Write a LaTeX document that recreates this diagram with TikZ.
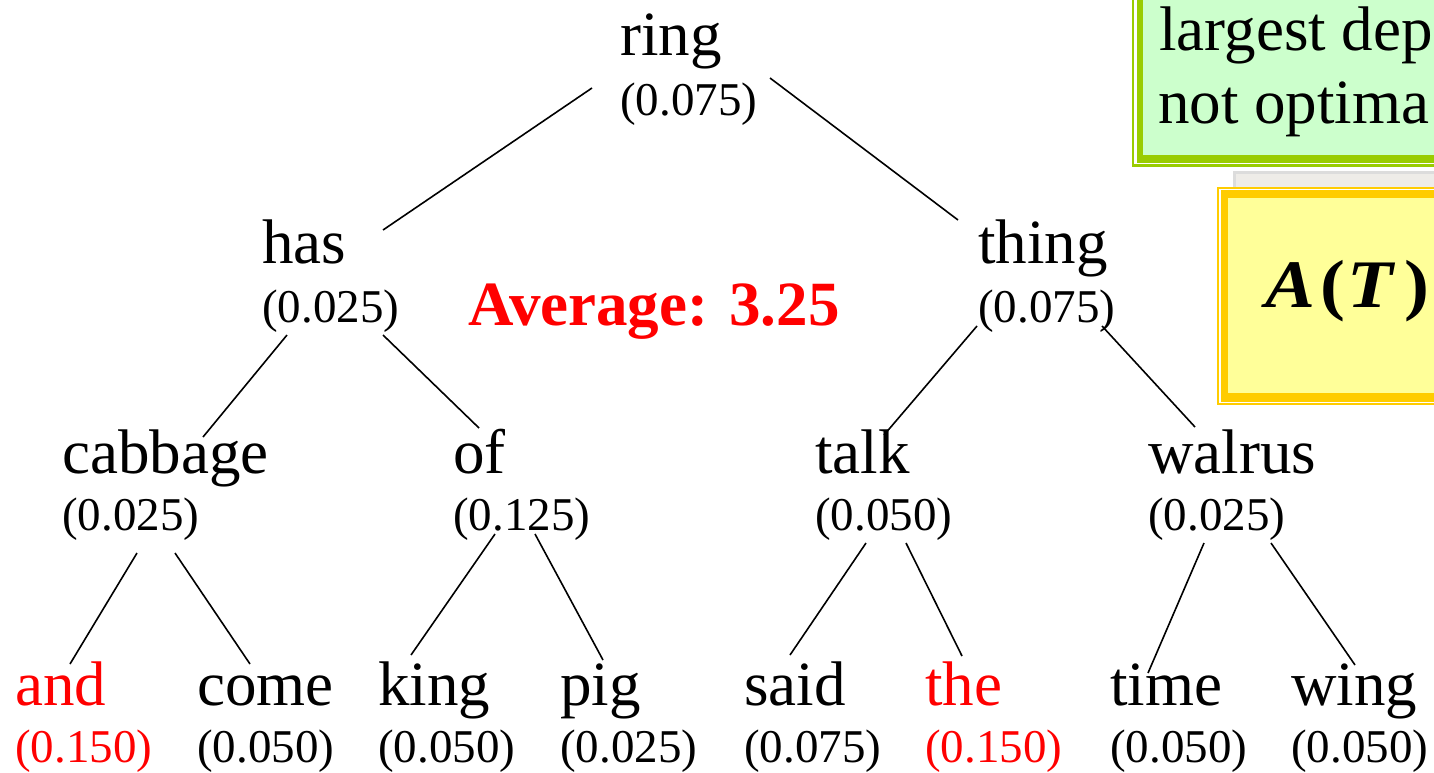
\documentclass[tikz,border=0pt]{standalone}
\usepackage{fontspec}
\setmainfont{Liberation Serif}
\usetikzlibrary{calc}

\newcommand\wordsize{\fontsize{63}{70}\selectfont}
\newcommand\numsize{\fontsize{47}{55}\selectfont}

\definecolor{hot}{HTML}{FF0000}
\definecolor{leafgreen}{HTML}{99CC00}
\definecolor{mint}{HTML}{CCFFCC}
\definecolor{gold}{HTML}{FFCC00}
\definecolor{paleyellow}{HTML}{FFFF99}
\definecolor{shadowgray}{HTML}{EEECE8}
\definecolor{shadowedge}{HTML}{DCDCDC}

\tikzset{
  wordlabel/.style={inner sep=0pt, anchor=base west, font=\wordsize},
  numlabel/.style={inner sep=0pt, anchor=base west, font=\numsize},
  edge/.style={draw=black, line width=1.6pt},
}

\begin{document}
\begin{tikzpicture}[x=1pt, y=-1pt]
\useasboundingbox (0,0) rectangle (1434,772);

% side panels, cut off at the right border
\begin{scope}
  \clip (0,0) rectangle (1434,772);
  % green note
  \fill[leafgreen] (1132,-20) rectangle (1460,167);
  \fill[white] (1134,-20) rectangle (1460,164);
  \fill[leafgreen] (1137,-20) rectangle (1460,163);
  \fill[mint] (1143,-20) rectangle (1460,155);
  \node[wordlabel] (note1) at (1159,50) {largest dep};
  \node[wordlabel] (note2) at (1158,123) {not optima};
  % grey shadow card
  \fill[shadowedge] (1233,171) rectangle (1460,398);
  \fill[shadowgray] (1236,174) rectangle (1460,398);
  % yellow formula card
  \fill[gold] (1217,187) rectangle (1460,405);
  \fill[white] (1219,189) rectangle (1460,403);
  \fill[gold] (1221,190) rectangle (1460,402);
  \fill[paleyellow] (1228,198) rectangle (1460,393);
  \node[inner sep=0pt, anchor=base west, font=\fontsize{68}{74}\selectfont] (formula) at (1265,307)
    {\scalebox{1.1}[1]{\textbf{\textit{A}\kern5pt(\kern2pt\textit{T}\kern8pt)}}};
\end{scope}

% tree labels
\node[wordlabel] (ring) at (620,55) {ring};
\node[numlabel] (ringv) at (620,115) {(0.075)};

\node[wordlabel] (has) at (262,263) {has};
\node[numlabel] (hasv) at (262,322) {(0.025)};
\node[wordlabel] (thing) at (978,263) {thing};
\node[numlabel] (thingv) at (978,322) {(0.075)};

\node[wordlabel] (cabbage) at (62,473) {cabbage};
\node[numlabel] (cabbagev) at (62,530) {(0.025)};
\node[wordlabel] (of) at (453,473) {of};
\node[numlabel] (ofv) at (453,530) {(0.125)};
\node[wordlabel] (talk) at (815,473) {talk};
\node[numlabel] (talkv) at (815,530) {(0.050)};
\node[wordlabel] (walrus) at (1148,473) {walrus};
\node[numlabel] (walrusv) at (1148,530) {(0.025)};

\node[wordlabel, text=hot] (and) at (15,705) {and};
\node[numlabel, text=hot] (andv) at (15,762) {(0.150)};
\node[wordlabel] (come) at (197,705) {come};
\node[numlabel] (comev) at (197,762) {(0.050)};
\node[wordlabel] (king) at (378,705) {king};
\node[numlabel] (kingv) at (378,762) {(0.050)};
\node[wordlabel] (pig) at (560,705) {pig};
\node[numlabel] (pigv) at (560,762) {(0.025)};
\node[wordlabel] (said) at (744,705) {said};
\node[numlabel] (saidv) at (744,762) {(0.075)};
\node[wordlabel, text=hot] (the) at (925,705) {the};
\node[numlabel, text=hot] (thev) at (925,762) {(0.150)};
\node[wordlabel] (time) at (1110,705) {time};
\node[numlabel] (timev) at (1110,762) {(0.050)};
\node[wordlabel] (wing) at (1291,705) {wing};
\node[numlabel] (wingv) at (1291,762) {(0.050)};

\node[inner sep=0pt, anchor=base west, text=hot, font=\fontsize{63}{70}\selectfont\bfseries] (avg) at (468,325) {Average: 3.25};

% tree edges
\draw[edge] ($(ringv.base west)+(-28,-27)$) -- ($(has.base west)+(121,-33)$);
\draw[edge] ($(ringv.base west)+(150,-37)$) -- ($(thing.base west)+(-20,-43)$);
\draw[edge] ($(hasv.base west)+(25,13)$) -- ($(cabbage.base west)+(141,-36)$);
\draw[edge] ($(hasv.base west)+(121,13)$) -- ($(of.base west)+(26,-45)$);
\draw[edge] ($(thingv.base west)+(-1,4)$) -- ($(talk.base west)+(69,-38)$);
\draw[edge] ($(thingv.base west)+(124,4)$) -- ($(walrus.base west)+(47,-46)$);
\draw[edge] ($(cabbagev.base west)+(75,23)$) -- ($(and.base west)+(55,-41)$);
\draw[edge] ($(cabbagev.base west)+(113,23)$) -- ($(come.base west)+(53,-41)$);
\draw[edge] ($(ofv.base west)+(42,4)$) -- ($(king.base west)+(33,-50)$);
\draw[edge] ($(ofv.base west)+(82,4)$) -- ($(pig.base west)+(43,-45)$);
\draw[edge] ($(talkv.base west)+(51,13)$) -- ($(said.base west)+(46,-50)$);
\draw[edge] ($(talkv.base west)+(91,13)$) -- ($(the.base west)+(37,-49)$);
\draw[edge] ($(walrusv.base west)+(56,13)$) -- ($(time.base west)+(38,-32)$);
\draw[edge] ($(walrusv.base west)+(123,13)$) -- ($(wing.base west)+(64,-40)$);
\end{tikzpicture}
\end{document}
